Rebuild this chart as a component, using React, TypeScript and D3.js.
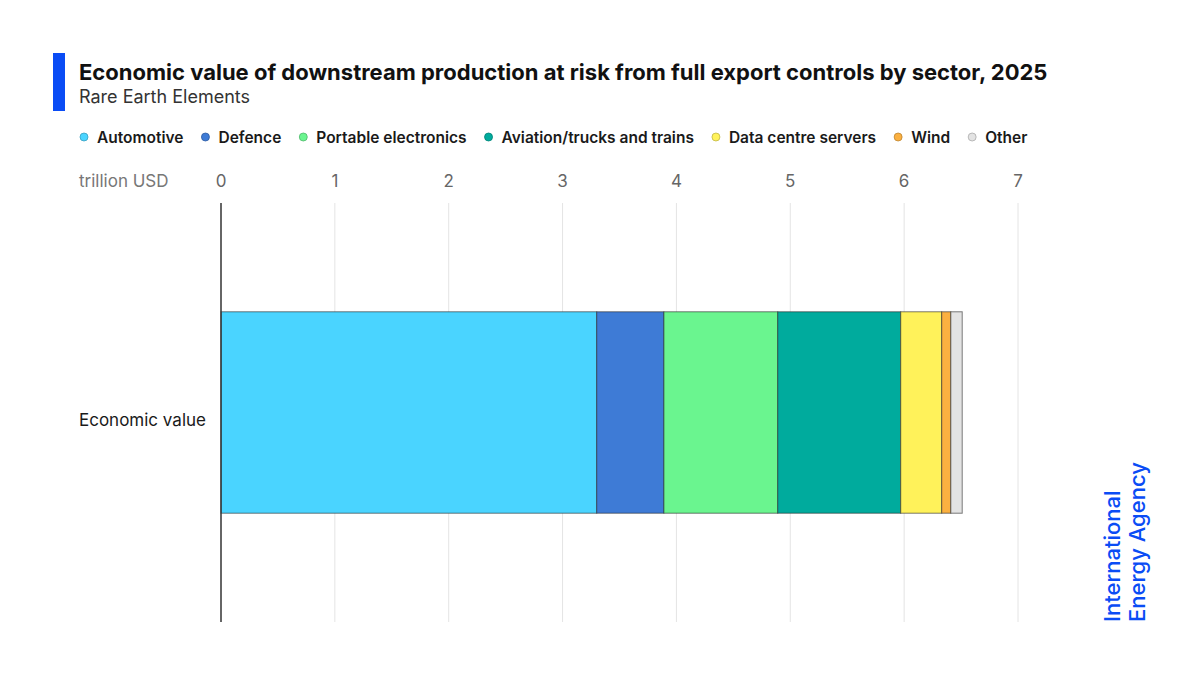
import React, { useEffect, useRef } from 'react';
import * as d3 from 'd3';

// Data (trillion USD)
const categories = ['Economic value'];
const sectors = ['Automotive', 'Defence', 'Portable electronics', 'Aviation/trucks and trains', 'Data centre servers', 'Wind', 'Other'];
const values = [3.30, 0.59, 1.00, 1.08, 0.36, 0.08, 0.10];
const colors = ['#4ad4ff', '#3e7bd6', '#6af58f', '#00ab9d', '#fff25a', '#fbb040', '#e3e3e3'];
const tickValues = [0, 1, 2, 3, 4, 5, 6, 7];

const FONT = 'Inter, "Noto Sans", sans-serif';

const App = () => {
    const ref = useRef<SVGSVGElement>(null);

    useEffect(() => {
        const svg = d3.select(ref.current);
        svg.selectAll('*').remove();

        const width = 1200;
        const height = 675;
        const margin = { top: 203, right: 182, bottom: 53, left: 221 };

        svg.append('rect').attr('width', width).attr('height', height).attr('fill', '#fff');

        // Title block
        svg.append('rect').attr('x', 53).attr('y', 53).attr('width', 12).attr('height', 58).attr('fill', '#0a4cf5');
        svg.append('text')
            .attr('x', 79).attr('y', 80)
            .attr('font-family', FONT).attr('font-weight', 700).attr('font-size', 22)
            .attr('fill', '#111')
            .text('Economic value of downstream production at risk from full export controls by sector, 2025');
        svg.append('text')
            .attr('x', 79).attr('y', 103)
            .attr('font-family', FONT).attr('font-size', 18)
            .attr('fill', '#333')
            .text('Rare Earth Elements');

        // Legend
        const legend = svg.append('g');
        let lx = 84;
        sectors.forEach((s, i) => {
            legend.append('circle')
                .attr('cx', lx).attr('cy', 137).attr('r', 4)
                .attr('fill', colors[i]).attr('stroke', d3.color(colors[i])!.darker(0.8).toString()).attr('stroke-width', 0.8);
            const t = legend.append('text')
                .attr('x', lx + 13).attr('y', 142.5)
                .attr('font-family', FONT).attr('font-weight', 600).attr('font-size', 15.5)
                .attr('fill', '#1a1a1a')
                .text(s);
            const w = (t.node() as SVGTextElement).getComputedTextLength();
            lx += 13 + w + 22;
        });

        const x = d3.scaleLinear()
            .domain([0, 7])
            .range([margin.left, width - margin.right]);

        const y = d3.scaleBand()
            .domain(categories)
            .range([margin.top, height - margin.bottom])
            .paddingInner(0)
            .paddingOuter(0.54);

        // Gridlines
        svg.append('g')
            .selectAll('line')
            .data(tickValues.filter(d => d > 0))
            .enter()
            .append('line')
            .attr('x1', d => x(d)).attr('x2', d => x(d))
            .attr('y1', margin.top).attr('y2', height - margin.bottom)
            .attr('stroke', '#e4e4e4').attr('stroke-width', 1);

        // Tick labels on top
        svg.append('g')
            .selectAll('text')
            .data(tickValues)
            .enter()
            .append('text')
            .attr('x', d => x(d)).attr('y', 187)
            .attr('text-anchor', 'middle')
            .attr('font-family', FONT).attr('font-size', 17)
            .attr('fill', '#666')
            .text(d => d);
        svg.append('text')
            .attr('x', 79).attr('y', 187)
            .attr('font-family', FONT).attr('font-size', 17)
            .attr('fill', '#777')
            .text('trillion USD');

        // Stacked bar
        const stackData = [Object.fromEntries(sectors.map((s, i) => [s, values[i]]))];
        const series = d3.stack<any>().keys(sectors)(stackData);

        svg.append('g')
            .selectAll('rect')
            .data(series)
            .enter()
            .append('rect')
            .attr('x', d => x(d[0][0]))
            .attr('width', d => x(d[0][1]) - x(d[0][0]))
            .attr('y', y(categories[0])!)
            .attr('height', y.bandwidth())
            .attr('fill', (d, i) => colors[i])
            .attr('stroke', 'rgba(40,40,40,0.6)')
            .attr('stroke-width', 1);

        // Category label
        svg.append('text')
            .attr('x', 79).attr('y', y(categories[0])! + y.bandwidth() / 2 + 13)
            .attr('font-family', FONT).attr('font-size', 17)
            .attr('fill', '#1a1a1a')
            .text(categories[0]);

        // Zero axis line
        svg.append('line')
            .attr('x1', x(0)).attr('x2', x(0))
            .attr('y1', margin.top).attr('y2', height - margin.bottom)
            .attr('stroke', '#333').attr('stroke-width', 1.5);

        // IEA logo
        const logo = svg.append('g').attr('transform', 'translate(1120,622) rotate(-90)');
        logo.append('text')
            .attr('x', 0).attr('y', 0)
            .attr('font-family', FONT).attr('font-size', 22).attr('font-weight', 500)
            .attr('fill', '#0a4cf5')
            .text('International');
        logo.append('text')
            .attr('x', 0).attr('y', 25)
            .attr('font-family', FONT).attr('font-size', 22).attr('font-weight', 500)
            .attr('fill', '#0a4cf5')
            .text('Energy Agency');
    }, []);

    return (
        <svg ref={ref} width={1200} height={675} style={{ display: 'block', margin: '-8px' }}></svg>
    );
};

export default App;
